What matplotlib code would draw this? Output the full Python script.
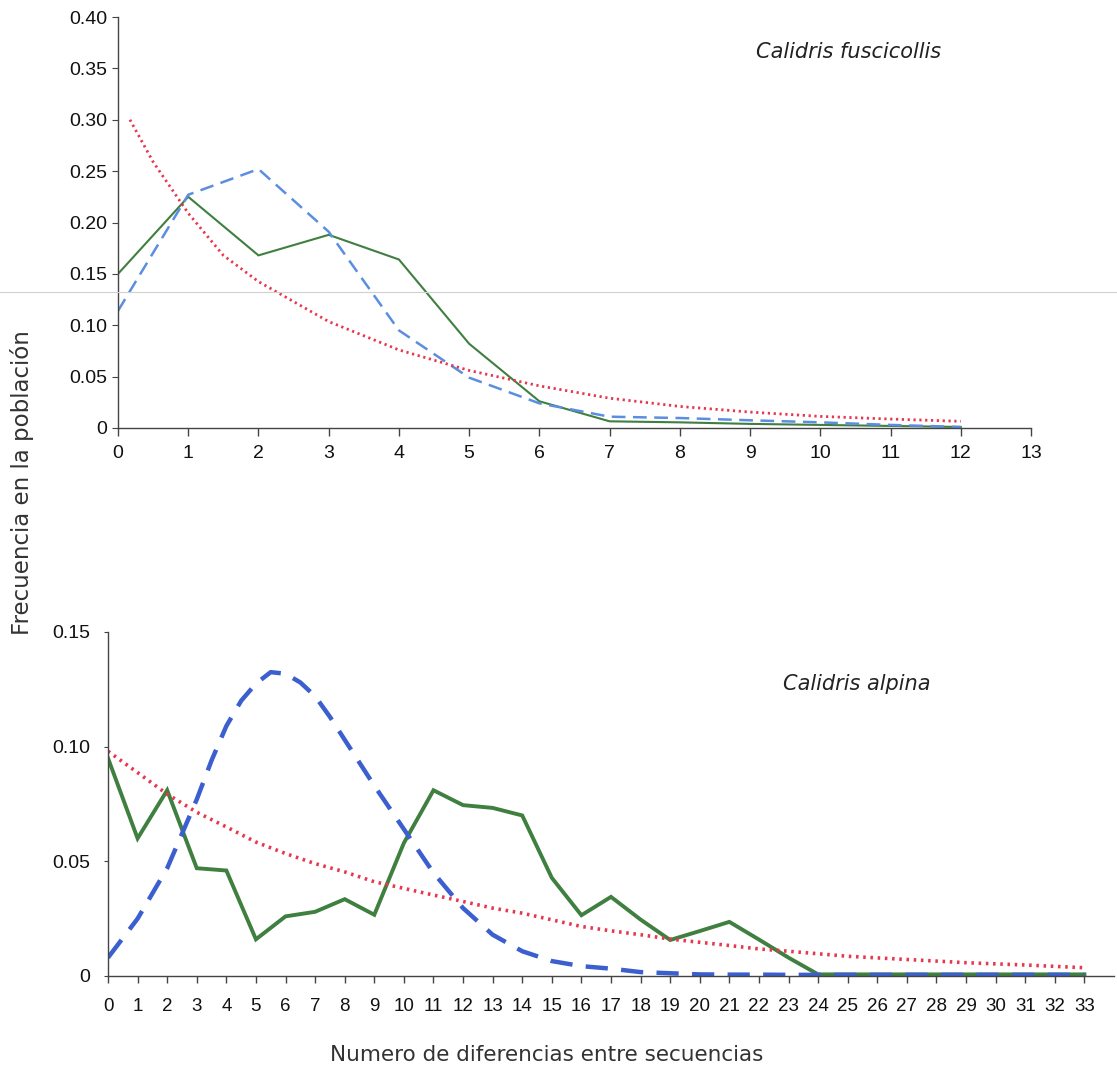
import matplotlib
matplotlib.use("Agg")
import matplotlib.pyplot as plt
from matplotlib.lines import Line2D

# ---------------- data: Calidris fuscicollis (top) ----------------
fus_x = [0, 1, 2, 3, 4, 5, 6, 7, 8, 9, 10, 11, 12]
fus_obs = [0.150, 0.225, 0.168, 0.188, 0.164, 0.082, 0.026, 0.0065, 0.0055, 0.004, 0.003, 0.002, 0.001]
fus_exp = [0.114, 0.227, 0.252, 0.191, 0.095, 0.049, 0.024, 0.011, 0.0097, 0.0075, 0.0055, 0.003, 0.001]
fus_fit_x = [0.17, 0.5, 1, 1.5, 2, 3, 4, 5, 6, 7, 8, 9, 10, 11, 12]
fus_fit = [0.300, 0.259, 0.209, 0.168, 0.1425, 0.1036, 0.076, 0.056, 0.041, 0.029, 0.021, 0.0155, 0.0113, 0.0087, 0.0065]
fus_ticks = list(range(0, 14))
fus_yticks = [0, 0.05, 0.10, 0.15, 0.20, 0.25, 0.30, 0.35, 0.40]
fus_ylabels = ["0", "0.05", "0.10", "0.15", "0.20", "0.25", "0.30", "0.35", "0.40"]

# ---------------- data: Calidris alpina (bottom) ----------------
alp_x = list(range(0, 34))
alp_obs = [0.095, 0.060, 0.081, 0.047, 0.046, 0.016, 0.026, 0.028, 0.0335, 0.0267,
           0.058, 0.081, 0.0745, 0.0733, 0.070, 0.0428, 0.0265, 0.0345, 0.0246, 0.0157,
           0.0196, 0.0236, 0.0159, 0.008, 0.0007, 0.0007, 0.0007, 0.0007, 0.0007, 0.0007,
           0.0007, 0.0007, 0.0007, 0.0007]
alp_exp_x = [0, 1, 2, 3, 3.5, 4, 4.5, 5, 5.5, 6, 6.5, 7, 7.5, 8, 9,
             10, 11, 12, 13, 14, 15, 16, 17, 18, 19, 20, 21, 22, 23, 24,
             25, 26, 27, 28, 29, 30, 31, 32, 33]
alp_exp = [0.008, 0.025, 0.047, 0.077, 0.094, 0.109, 0.120, 0.1275, 0.1325, 0.1318, 0.128, 0.122, 0.113, 0.103, 0.083,
           0.064, 0.045, 0.0296, 0.018, 0.0108, 0.0065, 0.0043, 0.0032, 0.0017, 0.0012, 0.0007, 0.0006, 0.0006, 0.0005, 0.0005,
           0.0005, 0.0005, 0.0005, 0.0005, 0.0005, 0.0005, 0.0005, 0.0005, 0.0005]
alp_fit = [0.098, 0.0887, 0.0793, 0.0714, 0.065, 0.0584, 0.0534, 0.049, 0.0454, 0.0411,
           0.0382, 0.0353, 0.0325, 0.0296, 0.0274, 0.0245, 0.0216, 0.0197, 0.018, 0.0161,
           0.0147, 0.0133, 0.0118, 0.0108, 0.0097, 0.0086, 0.0079, 0.0072, 0.0065, 0.0058,
           0.0053, 0.0048, 0.0042, 0.0036]
alp_ticks = list(range(0, 34))
alp_yticks = [0, 0.05, 0.10, 0.15]
alp_ylabels = ["0", "0.05", "0.10", "0.15"]

title_top = "Calidris fuscicollis"
title_bot = "Calidris alpina"
ylabel = "Frecuencia en la población"
xlabel = "Numero de diferencias entre secuencias"

# ---------------- styling ----------------
GREEN = "#3f7f3f"
BLUE_TOP = "#5b8ee0"
BLUE_BOT = "#3b5fcf"
RED = "#e8364f"
TICKFONT = "Liberation Sans"
TXTFONT = "DejaVu Sans"

fig = plt.figure(figsize=(11.17, 10.74), dpi=100)
W, H = 1117, 1074

def frac_axes(x0, x1, ytop, ybot):
    return [x0 / W, 1 - ybot / H, (x1 - x0) / W, (ybot - ytop) / H]

ax1 = fig.add_axes(frac_axes(118, 1031, 17, 428))
ax2 = fig.add_axes(frac_axes(108, 1114, 632, 976))

for ax in (ax1, ax2):
    for s in ("top", "right"):
        ax.spines[s].set_visible(False)
    for s in ("left", "bottom"):
        ax.spines[s].set_color("#444444")
        ax.spines[s].set_linewidth(1.0)
    ax.tick_params(axis="both", colors="#444444", labelcolor="#111111",
                   direction="out")
    ax.tick_params(axis="x", length=6, width=1.0)
    ax.tick_params(axis="y", length=4, width=0.8)

# top chart
ax1.plot(fus_x, fus_obs, color=GREEN, lw=1.5, solid_joinstyle="miter")
ax1.plot(fus_x, fus_exp, color=BLUE_TOP, lw=1.8, linestyle=(0, (5.5, 3)))
ax1.plot(fus_fit_x, fus_fit, color=RED, lw=2.0, linestyle=(0, (0.8, 1.3)))
ax1.set_xlim(0, 13)
ax1.set_ylim(0, 0.40)
ax1.set_xticks(fus_ticks)
ax1.set_xticklabels([str(t) for t in fus_ticks], fontfamily=TICKFONT, fontsize=14)
ax1.set_yticks(fus_yticks)
ax1.set_yticklabels(fus_ylabels, fontfamily=TICKFONT, fontsize=14)
ax1.tick_params(axis="x", pad=6)
ax1.tick_params(axis="y", pad=4)
ax1.text(10.4, 0.366, title_top, ha="center", va="center", fontsize=15,
         style="italic", family=TXTFONT, color="#222222")

# bottom chart
ax2.plot(alp_x, alp_obs, color=GREEN, lw=2.8, solid_joinstyle="miter")
ax2.plot(alp_exp_x, alp_exp, color=BLUE_BOT, lw=3.2, linestyle=(0, (5, 3)))
ax2.plot(alp_x, alp_fit, color=RED, lw=2.6, linestyle=(0, (0.7, 1.3)))
ax2.set_xlim(0, 34)
ax2.set_ylim(0, 0.15)
ax2.set_xticks(alp_ticks)
ax2.set_xticklabels([str(t) for t in alp_ticks], fontfamily=TICKFONT, fontsize=13.5)
ax2.set_yticks(alp_yticks)
ax2.set_yticklabels(alp_ylabels, fontfamily=TICKFONT, fontsize=14)
ax2.tick_params(axis="x", pad=11, length=5)
ax2.tick_params(axis="y", pad=10, length=3)
ax2.text(25.3, 0.1274, title_bot, ha="center", va="center", fontsize=15,
         style="italic", family=TXTFONT, color="#222222")

# shared labels
fig.text(22 / W, 1 - 483 / H, ylabel, rotation=90, ha="center", va="center",
         fontsize=16.5, family=TXTFONT, color="#333333")
fig.text(547 / W, 1 - 1055 / H, xlabel, ha="center", va="center",
         fontsize=15.5, family=TXTFONT, color="#333333")

# faint horizontal scan line across the page
fig.add_artist(Line2D([0, 1], [1 - 292 / H, 1 - 292 / H], transform=fig.transFigure,
                      color="#d0d0d0", lw=0.8))

fig.savefig("out.png", dpi=100)
